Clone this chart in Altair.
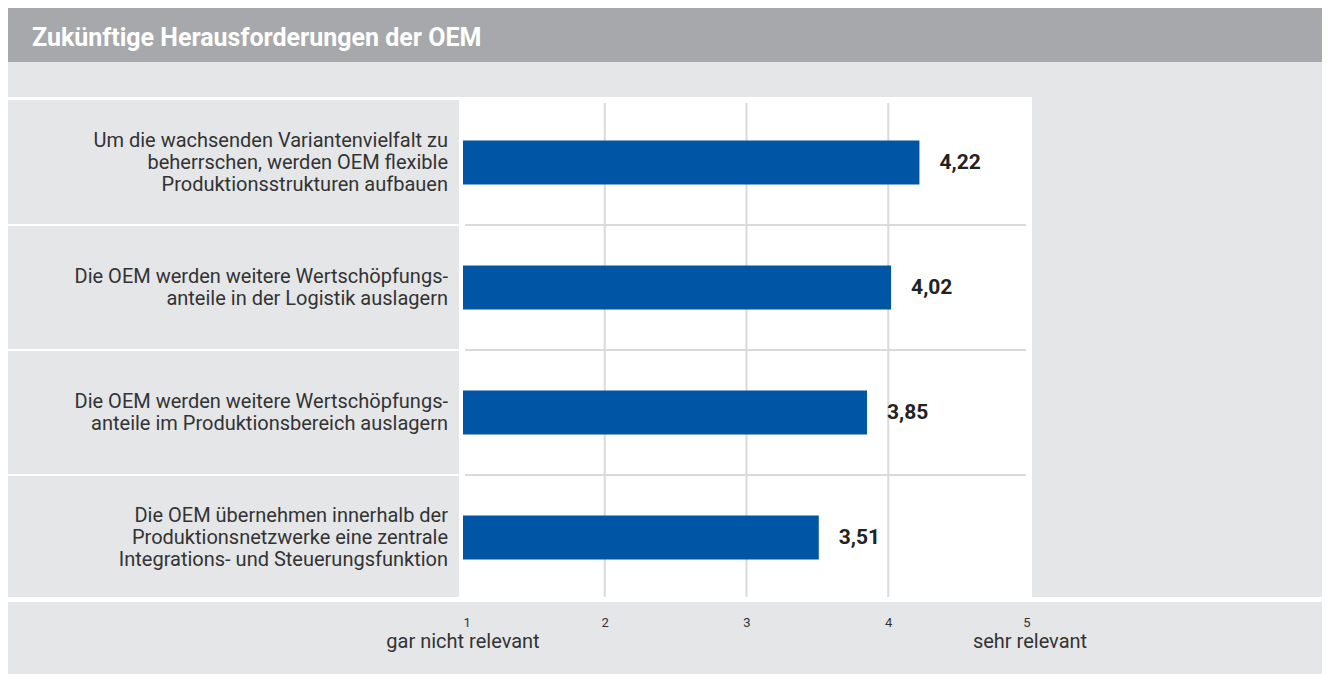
import altair as alt
import pandas as pd

title_text = "Zukünftige Herausforderungen der OEM"
categories = [
    "Um die wachsenden Variantenvielfalt zu|beherrschen, werden OEM flexible|Produktionsstrukturen aufbauen",
    "Die OEM werden weitere Wertschöpfungs-|anteile in der Logistik auslagern",
    "Die OEM werden weitere Wertschöpfungs-|anteile im Produktionsbereich auslagern",
    "Die OEM übernehmen innerhalb der|Produktionsnetzwerke eine zentrale|Integrations- und Steuerungsfunktion",
]
values = [4.22, 4.02, 3.85, 3.51]
value_labels = ["4,22", "4,02", "3,85", "3,51"]
tick_values = [1, 2, 3, 4, 5]
grid_values = [2, 3, 4]
end_labels = ["gar nicht relevant", "sehr relevant"]
end_positions = [1, 5]

FONT = "Roboto"
BAR = "#0055a4"
DARK = "#a7a8ab"
LIGHT = "#e5e6e8"
TXT = "#333333"
LH = 22

df = pd.DataFrame({"cat": categories, "value": values, "label": value_labels, "start": [1] * 4})
df["nlines"] = [c.count("|") + 1 for c in categories]
sep_df = pd.DataFrame({"cat": categories[:-1]})
grid_df = pd.DataFrame({"g": grid_values})
end_df = pd.DataFrame({"pos": end_positions, "txt": end_labels})
one = pd.DataFrame({"t": [title_text]})

xs = alt.Scale(domain=[1, 5], nice=False, zero=False)
ys = alt.Scale(domain=categories, paddingInner=0, paddingOuter=0)

W_TOTAL = 1314
LEFT = 455
RIGHT_EDGE = W_TOTAL - LEFT  # 859


def rect(x, x2, y, y2, color):
    return alt.Chart(one).mark_rect(color=color).encode(
        x=alt.value(x), x2=alt.value(x2), y=alt.value(y), y2=alt.value(y2)
    )


# backgrounds (plot origin at page 463,100)
bg = [
    rect(-LEFT, RIGHT_EDGE, -92, -38, DARK),   # header band
    rect(-LEFT, RIGHT_EDGE, -38, -3, LIGHT),   # light band
    rect(-LEFT, -4, 0, 497, LIGHT),            # label panel
    rect(569, RIGHT_EDGE, -3, 497, LIGHT),     # right panel
    rect(-LEFT, RIGHT_EDGE, 502, 574, LIGHT),  # bottom band
]

title = alt.Chart(one).mark_text(
    align="left", baseline="middle", font=FONT, fontSize=25, fontWeight="bold", color="white"
).encode(x=alt.value(-431), y=alt.value(-62), text="t:N")

label_seps = alt.Chart(sep_df).mark_rule(color="white", strokeWidth=2).encode(
    y=alt.Y("cat:N", scale=ys, bandPosition=1, axis=None),
    x=alt.value(-LEFT), x2=alt.value(-4),
)

row_seps = alt.Chart(sep_df).mark_rule(color="#dadada", strokeWidth=2).encode(
    y=alt.Y("cat:N", scale=ys, bandPosition=1, axis=None),
    x=alt.value(2), x2=alt.value(563),
)

grid = alt.Chart(grid_df).mark_rule(color="#dadada", strokeWidth=2).encode(
    x=alt.X("g:Q", scale=xs), y=alt.value(3), y2=alt.value(497)
)

bars = alt.Chart(df).mark_bar(color=BAR, size=44).encode(
    y=alt.Y("cat:N", scale=ys, axis=None, sort=categories),
    x=alt.X(
        "start:Q", scale=xs, title=None,
        axis=alt.Axis(values=tick_values, ticks=False, domain=False, grid=False,
                      labelFont=FONT, labelFontSize=13, labelColor=TXT,
                      labelPadding=16, zindex=1, format="d"),
    ),
    x2="value:Q",
)

vals = alt.Chart(df).mark_text(
    align="left", baseline="middle", dx=20, font=FONT, fontSize=21, fontWeight="bold", color="#222222"
).encode(y=alt.Y("cat:N", scale=ys), x=alt.X("value:Q", scale=xs), text="label:N")


def cat_layer(n):
    return alt.Chart(df).transform_filter(f"datum.nlines == {n}").mark_text(
        align="right", baseline="middle", lineBreak="|", lineHeight=LH,
        font=FONT, fontSize=20, color=TXT, dy=-(n - 1) * LH / 2,
    ).encode(y=alt.Y("cat:N", scale=ys), x=alt.value(-15), text="cat:N")


cat_labels = [cat_layer(n) for n in sorted(set(df["nlines"]))]

ends = alt.Chart(end_df).mark_text(
    align="center", baseline="middle", font=FONT, fontSize=20, color=TXT
).encode(x=alt.X("pos:Q", scale=xs), y=alt.value(542), text="txt:N")

chart = alt.layer(
    *bg, title, label_seps, row_seps, grid, bars, vals, *cat_labels, ends
).properties(
    width=567, height=500,
    autosize=alt.AutoSizeParams(type="none"),
    padding={"left": LEFT, "top": 92, "right": W_TOTAL - LEFT - 567, "bottom": 74},
    background="white",
).configure_view(stroke=None)

chart.save("out.html", embed_options={"renderer": "svg", "actions": False})
